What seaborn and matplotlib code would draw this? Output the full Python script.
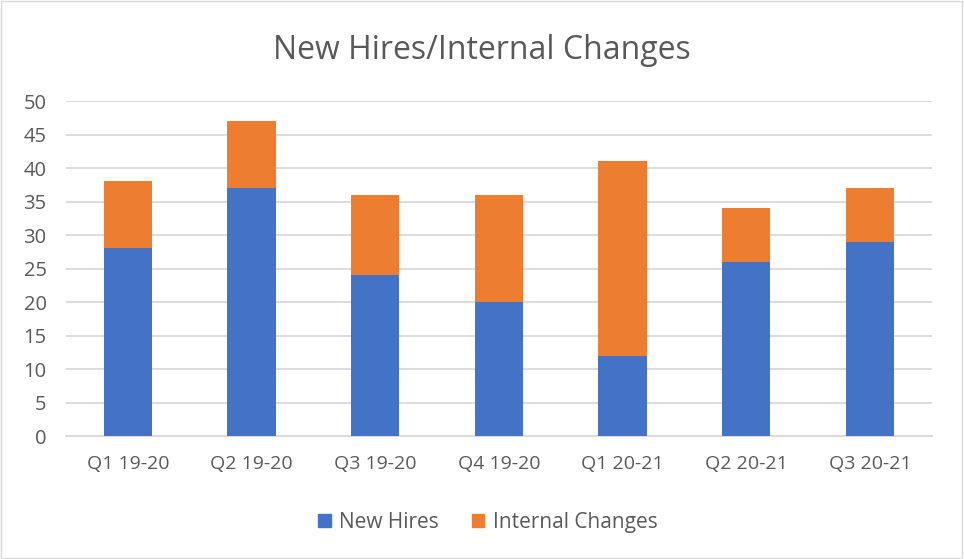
import matplotlib
matplotlib.use("Agg")
import matplotlib.pyplot as plt
import seaborn as sns
import pandas as pd
from matplotlib.patches import Patch, Rectangle

quarters = ["Q1 19-20", "Q2 19-20", "Q3 19-20", "Q4 19-20", "Q1 20-21", "Q2 20-21", "Q3 20-21"]
new_hires = [28, 37, 24, 20, 12, 26, 29]
internal_changes = [10, 10, 12, 16, 29, 8, 8]

blue = "#4472C4"
orange = "#ED7D31"
text_c = "#595959"
grid_c = "#D9D9D9"

sns.set_theme(style="white")
plt.rcParams["font.family"] = ["Open Sans", "DejaVu Sans"]

df = pd.DataFrame({"quarter": quarters, "new": new_hires, "internal": internal_changes})
df["total"] = df["new"] + df["internal"]

fig = plt.figure(figsize=(9.64, 5.59), dpi=100)
ax = fig.add_axes([0.0685, 0.22, 0.898, 0.5993])

sns.barplot(data=df, x="quarter", y="total", color=orange, saturation=1, width=0.39, ax=ax, linewidth=0, zorder=3)
sns.barplot(data=df, x="quarter", y="new", color=blue, saturation=1, width=0.39, ax=ax, linewidth=0, zorder=3)

ax.set_ylim(0, 50)
ax.set_yticks(range(0, 51, 5))
ax.set_xlim(-0.5, len(quarters) - 0.5)
ax.yaxis.grid(True, color=grid_c, linewidth=1.3, zorder=0)
ax.set_axisbelow(True)
for s in ["top", "right", "left"]:
    ax.spines[s].set_visible(False)
ax.spines["bottom"].set_color(grid_c)
ax.spines["bottom"].set_linewidth(1.3)
ax.set_xlabel("")
ax.set_ylabel("")
ax.tick_params(axis="x", length=0, labelsize=14, colors=text_c, pad=14)
ax.tick_params(axis="y", length=0, labelsize=14.5, colors=text_c, pad=14)

fig.text(0.5, 0.91, "New Hires/Internal Changes", ha="center", va="center", fontsize=23, color=text_c)

handles = [Patch(color=blue, label="New Hires"), Patch(color=orange, label="Internal Changes")]
fig.legend(handles=handles, loc="center", bbox_to_anchor=(0.506, 0.066), ncol=2, frameon=False,
           fontsize=15, labelcolor=text_c, handlelength=0.6, handleheight=0.6, handletextpad=0.4,
           columnspacing=1.6)

fig.patches.append(Rectangle((0.001, 0.001), 0.997, 0.997, transform=fig.transFigure,
                             fill=False, edgecolor="#D9D9D9", linewidth=1))

fig.savefig("out.png", dpi=100)
